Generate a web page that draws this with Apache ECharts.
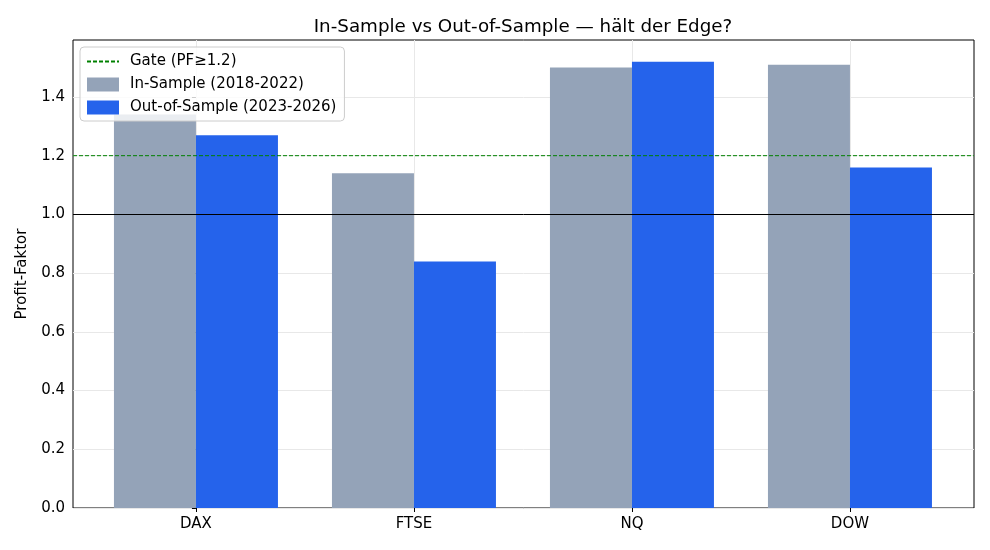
<!DOCTYPE html>
<html>
<head>
<meta charset="utf-8">
<script src="https://cdn.jsdelivr.net/npm/echarts@6/dist/echarts.min.js"></script>
<style>
  html, body { margin: 0; padding: 0; background: #fff; }
  #main { width: 990px; height: 550px; }
</style>
</head>
<body>
<div id="main"></div>
<script>
var markets = ['DAX', 'FTSE', 'NQ', 'DOW'];
var inSample = [1.34, 1.14, 1.50, 1.51];
var outSample = [1.27, 0.84, 1.52, 1.16];
var gateLevel = 1.2;
var baseLevel = 1.0;
var yTicks = [0, 0.2, 0.4, 0.6, 0.8, 1.0, 1.2, 1.4];

var xMin = -0.564, xMax = 3.569;
var font = 'DejaVu Sans';

var myChart = echarts.init(document.getElementById('main'));

function pairs(arr) {
  return arr.map(function (v, i) { return [i, v]; });
}

var option = {
  animation: false,
  title: {
    text: 'In-Sample vs Out-of-Sample — hält der Edge?',
    left: 518, textAlign: 'center', top: 13,
    textStyle: { fontFamily: font, fontSize: 18.3, fontWeight: 'normal', color: '#000' }
  },
  legend: {
    orient: 'vertical',
    left: 80, top: 47,
    padding: [7, 8, 6, 6],
    itemGap: 8,
    itemWidth: 32, itemHeight: 14,
    borderColor: '#cccccc', borderWidth: 1, borderRadius: 4,
    backgroundColor: 'rgba(255,255,255,0.8)',
    textStyle: { fontFamily: font, fontSize: 15, color: '#000', padding: [0, 0, 0, 6] },
    data: [
      { name: 'Gate (PF≥1.2)', itemStyle: { opacity: 0 } },
      { name: 'In-Sample (2018-2022)', icon: 'rect' },
      { name: 'Out-of-Sample (2023-2026)', icon: 'rect' }
    ]
  },
  grid: {
    left: 73, right: 16, top: 40, bottom: 42,
    show: true, borderColor: '#000', borderWidth: 1, backgroundColor: 'transparent'
  },
  xAxis: {
    type: 'value', min: xMin, max: xMax,
    axisLine: { show: false },
    axisTick: { show: true, length: 4, lineStyle: { color: '#000' }, customValues: [0, 1, 2, 3] },
    axisLabel: {
      customValues: [0, 1, 2, 3], margin: 9,
      fontFamily: font, fontSize: 15, color: '#000',
      formatter: function (v) { return markets[Math.round(v)]; }
    },
    splitLine: { show: true, lineStyle: { color: '#e8e8e8', width: 1 } }
  },
  yAxis: {
    type: 'value', min: 0, max: 1.594,
    name: 'Profit-Faktor', nameLocation: 'middle', nameGap: 43, nameRotate: 90,
    nameTextStyle: { fontFamily: font, fontSize: 15, color: '#000' },
    axisLine: { show: false },
    axisTick: { show: true, length: 4, lineStyle: { color: '#000' }, customValues: yTicks },
    axisLabel: {
      customValues: yTicks, margin: 8,
      fontFamily: font, fontSize: 15, color: '#000',
      formatter: function (v) { return v.toFixed(1); }
    },
    splitLine: { show: true, lineStyle: { color: '#e8e8e8', width: 1 } }
  },
  series: [
    {
      name: 'Gate (PF≥1.2)', type: 'line', symbol: 'none', z: 5,
      data: [[xMin, gateLevel], [xMax, gateLevel]],
      lineStyle: { color: '#008000', width: 1, type: [4, 2], opacity: 1 },
      itemStyle: { color: '#008000' }
    },
    {
      name: 'In-Sample (2018-2022)', type: 'bar', barWidth: 82, barGap: '0%',
      data: pairs(inSample),
      itemStyle: { color: '#94a3b8' },
      markLine: {
        silent: true, symbol: 'none', label: { show: false }, z: 6,
        lineStyle: { color: '#000', width: 1, type: 'solid' },
        data: [{ yAxis: baseLevel }]
      }
    },
    {
      name: 'Out-of-Sample (2023-2026)', type: 'bar', barWidth: 82, barGap: '0%',
      data: pairs(outSample),
      itemStyle: { color: '#2563eb' }
    }
  ]
};
myChart.setOption(option);
</script>
</body>
</html>
